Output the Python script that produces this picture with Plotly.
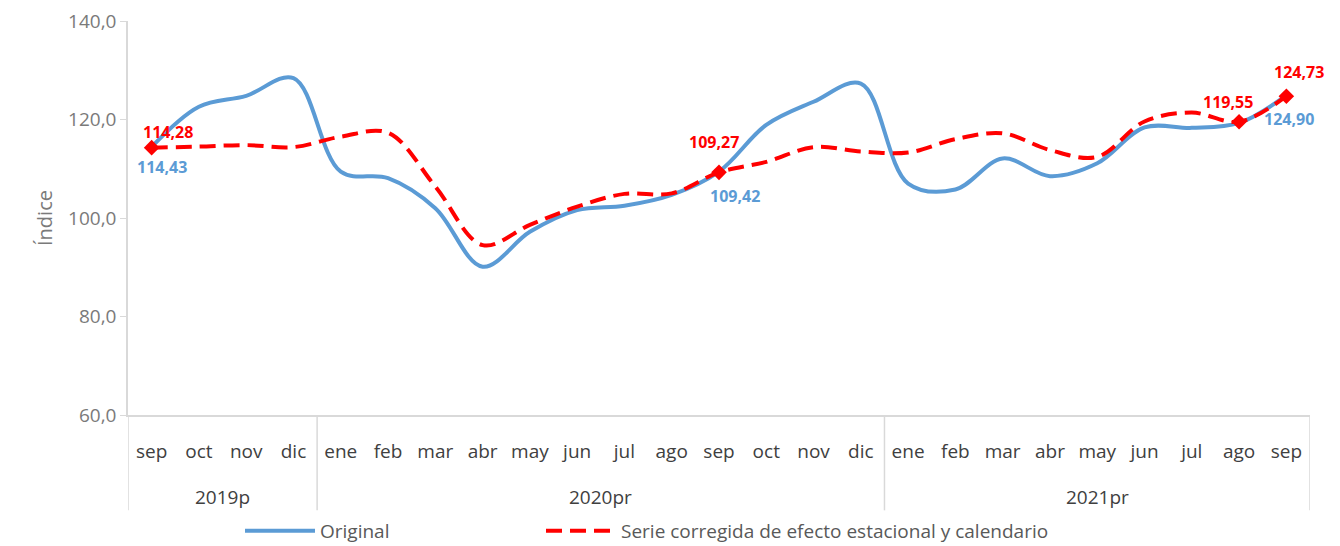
import plotly.graph_objects as go

months = ["sep", "oct", "nov", "dic",
          "ene", "feb", "mar", "abr", "may", "jun", "jul", "ago", "sep", "oct", "nov", "dic",
          "ene", "feb", "mar", "abr", "may", "jun", "jul", "ago", "sep"]
years = ["2019p", "2020pr", "2021pr"]
year_counts = [4, 12, 9]

original = [114.43, 122.6, 124.8, 128.4,
            109.4, 108.1, 102.0, 90.1, 97.2, 101.6, 102.5, 104.7, 109.42, 118.9, 123.6, 127.3,
            107.0, 105.8, 112.1, 108.5, 111.1, 118.4, 118.3, 119.3, 124.90]
corregida = [114.28, 114.5, 114.8, 114.4,
             116.5, 117.3, 106.4, 94.5, 98.6, 102.3, 104.9, 105.0, 109.27, 111.4, 114.4, 113.5,
             113.3, 116.0, 117.2, 113.8, 112.4, 119.6, 121.4, 119.55, 124.73]

x = list(range(len(months)))
marker_idx = [0, 12, 23, 24]

BLUE = "#5B9BD5"
RED = "#FF0000"
GRAY = "#595959"
DGRAY = "#404040"
YGRAY = "#7A7A7A"
LGRAY = "#D9D9D9"
FONT = "Open Sans"

fig = go.Figure()
fig.add_trace(go.Scatter(
    x=x, y=original, mode="lines", name="Original", legend="legend",
    line=dict(color=BLUE, width=4, shape="spline", smoothing=1.0),
))
fig.add_trace(go.Scatter(
    x=x, y=corregida, mode="lines", name="Serie corregida de efecto estacional y calendario",
    legend="legend2",
    line=dict(color=RED, width=4, shape="spline", smoothing=1.0, dash="16px,8px"),
))
fig.add_trace(go.Scatter(
    x=[x[i] for i in marker_idx], y=[corregida[i] for i in marker_idx],
    mode="markers", showlegend=False,
    marker=dict(symbol="diamond", size=12, color=RED),
))

def fmt(v):
    return f"{v:.2f}".replace(".", ",")

# data labels: (series, index, xshift, yshift)
labels = [("r", 0, 16, 16), ("b", 0, 10, -20),
          ("r", 12, -5, 30), ("b", 12, 16, -24),
          ("r", 23, -11, 20),
          ("r", 24, 13, 24), ("b", 24, 3, -24)]
for s, i, dx, dy in labels:
    v = corregida[i] if s == "r" else original[i]
    fig.add_annotation(x=x[i], y=v, xref="x", yref="y", text=f"<b>{fmt(v)}</b>",
                       showarrow=False, xshift=dx, yshift=dy,
                       font=dict(family=FONT, size=16, color=RED if s == "r" else BLUE))

# year group labels and dividers
start = -0.5
bounds = [start]
for n in year_counts:
    bounds.append(bounds[-1] + n)
for k, yr in enumerate(years):
    fig.add_annotation(x=(bounds[k] + bounds[k + 1]) / 2, y=-0.208, xref="x", yref="paper",
                       text=yr, showarrow=False, yanchor="middle",
                       font=dict(family=FONT, size=19, color=DGRAY))
for b in bounds:
    fig.add_shape(type="line", x0=b, x1=b, xref="x", y0=0, y1=-0.242, yref="paper",
                  line=dict(color=LGRAY, width=1.5))

leg_font = dict(family=FONT, size=19, color=GRAY)
fig.update_layout(
    width=1332, height=538,
    margin=dict(l=120, r=30, t=13, b=131, autoexpand=False),
    paper_bgcolor="white", plot_bgcolor="white",
    separators=",.",
    font=dict(family=FONT, size=19, color=GRAY),
    legend=dict(orientation="h", x=(240 - 128) / 1182, xanchor="left", y=-0.294, yanchor="middle",
                font=leg_font, itemwidth=70, bgcolor="rgba(0,0,0,0)"),
    legend2=dict(orientation="h", x=(541 - 128) / 1182, xanchor="left", y=-0.294, yanchor="middle",
                 font=leg_font, itemwidth=70, bgcolor="rgba(0,0,0,0)"),
    xaxis=dict(range=[-0.5, 24.5], tickmode="array", tickvals=x, ticktext=months,
               showgrid=False, zeroline=False, showline=True, linecolor=LGRAY, linewidth=1.5,
               ticks="", ticklabelstandoff=18, automargin=False, ticklabeloverflow="allow",
               tickfont=dict(family=FONT, size=19, color=DGRAY)),
    yaxis=dict(range=[60, 140], dtick=20, tickformat=".1f", showgrid=False, zeroline=False,
               showline=True, linecolor=LGRAY, linewidth=1.5, ticks="outside", ticklen=6,
               tickcolor=LGRAY, automargin=False, ticklabeloverflow="allow",
               tickfont=dict(family=FONT, size=19, color=YGRAY),
               title=dict(text="Índice", font=dict(family=FONT, size=20, color=YGRAY), standoff=10)),
)

fig.write_html("out.html")
